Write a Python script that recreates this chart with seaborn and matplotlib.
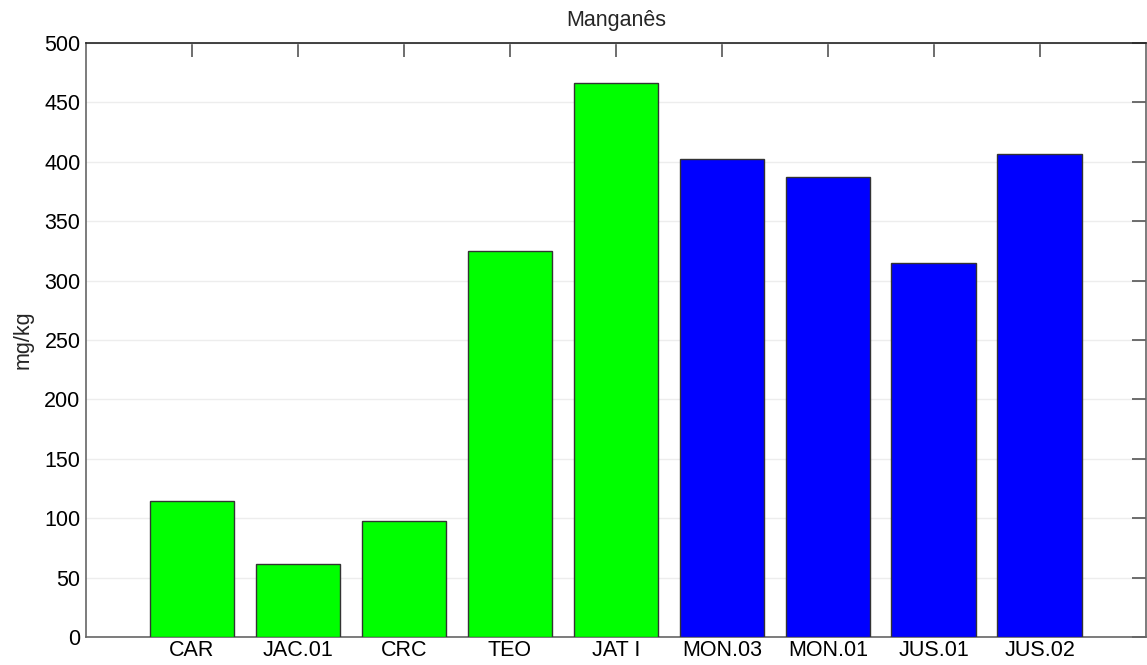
import matplotlib
matplotlib.use("Agg")
import matplotlib.pyplot as plt
import seaborn as sns
import pandas as pd

# Manganese concentration per sampling site
sites = ["CAR", "JAC.01", "CRC", "TEO", "JAT I", "MON.03", "MON.01", "JUS.01", "JUS.02"]
mn_values = [114.5, 61.5, 98.0, 325.0, 466.5, 402.0, 387.5, 315.0, 407.0]
groups = ["A", "A", "A", "A", "A", "B", "B", "B", "B"]
group_colors = {"A": "#00FF00", "B": "#0000FF"}
y_ticks = [0, 50, 100, 150, 200, 250, 300, 350, 400, 450, 500]

df = pd.DataFrame({"site": sites, "mn": mn_values, "group": groups})

sns.set_style("white")
plt.rcParams["font.family"] = ["Liberation Sans", "DejaVu Sans"]

fig = plt.figure(figsize=(11.47, 6.65), dpi=100)
ax = fig.add_axes([0.075, 0.0421, 0.924, 0.8932])

sns.barplot(data=df, x="site", y="mn", hue="group", palette=group_colors,
            saturation=1, dodge=False, width=0.8, edgecolor="#333333",
            linewidth=1.0, legend=False, ax=ax, zorder=3)

ax.set_xlim(-1, 9)
ax.set_ylim(0, 500)
ax.set_yticks(y_ticks)
ax.yaxis.grid(True, color="#ededed", linewidth=1.0, zorder=0)
ax.xaxis.grid(False)
ax.set_axisbelow(True)

ax.tick_params(axis="both", direction="in", top=True, right=True,
               length=10, width=1.2, color="#555555", labelsize=15.5,
               labelcolor="black")
ax.tick_params(axis="x", pad=2)
ax.tick_params(axis="y", pad=4)

for side in ["left", "right", "bottom"]:
    ax.spines[side].set_color("#666666")
    ax.spines[side].set_linewidth(1.2)
ax.spines["top"].set_color("#222222")
ax.spines["top"].set_linewidth(1.2)

ax.set_xlabel("")
ax.set_ylabel("mg/kg", fontsize=15.5, labelpad=8)
ax.set_title("Manganês", fontsize=15.5, pad=12)

fig.savefig("out.png", dpi=100)
